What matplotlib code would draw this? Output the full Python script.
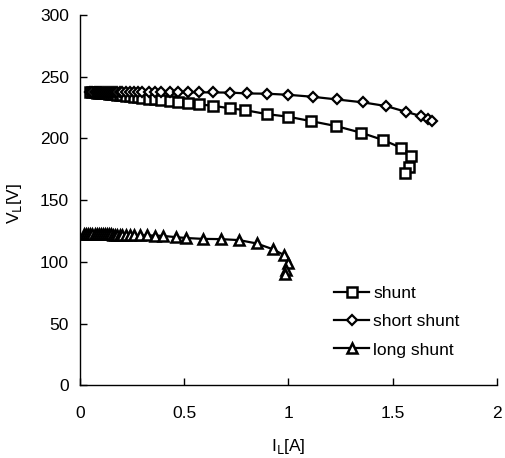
import matplotlib
matplotlib.use("Agg")
import matplotlib.pyplot as plt

plt.rcParams['font.family'] = ['Liberation Sans', 'DejaVu Sans']

shunt_I = [0.05, 0.06, 0.07, 0.08, 0.09, 0.10, 0.11, 0.12, 0.13, 0.14, 0.15, 0.16, 0.17, 0.18,
           0.19, 0.20, 0.22, 0.24, 0.26, 0.28, 0.30, 0.33, 0.36, 0.39, 0.43, 0.47, 0.52, 0.57,
           0.64, 0.72, 0.79, 0.895, 1.0, 1.11, 1.23, 1.35, 1.455, 1.54, 1.59, 1.58, 1.56]
shunt_V = [237.5, 237.4, 237.3, 237.2, 237.0, 236.9, 236.8, 236.6, 236.5, 236.3, 236.2, 236.0,
           235.8, 235.6, 235.4, 235.2, 234.8, 234.4, 234.0, 233.6, 233.0, 232.4, 231.6, 231.0,
           230.3, 229.8, 228.4, 227.6, 226.5, 224.4, 223.0, 219.8, 217.6, 214.0, 210.0, 204.6,
           198.7, 192.5, 185.7, 177.0, 171.7]

short_I = [0.05, 0.06, 0.07, 0.08, 0.09, 0.10, 0.11, 0.12, 0.13, 0.14, 0.15, 0.16, 0.17, 0.18,
           0.19, 0.20, 0.22, 0.24, 0.26, 0.28, 0.30, 0.33, 0.36, 0.39, 0.43, 0.47, 0.52, 0.57,
           0.64, 0.72, 0.80, 0.895, 1.0, 1.116, 1.234, 1.356, 1.468, 1.562, 1.635, 1.67, 1.69]
short_V = [237.5, 237.6, 237.6, 237.7, 237.7, 237.8, 237.8, 237.8, 237.8, 237.9, 237.9, 237.9,
           237.9, 237.9, 238.0, 238.0, 238.0, 238.0, 238.0, 238.0, 238.0, 237.9, 237.9, 237.8,
           237.7, 237.6, 237.5, 237.4, 237.3, 237.2, 236.5, 236.3, 235.4, 233.8, 231.6, 229.3,
           226.3, 221.7, 218.2, 215.5, 214.5]

long_I = [0.02, 0.03, 0.04, 0.05, 0.06, 0.07, 0.08, 0.09, 0.10, 0.11, 0.12, 0.13, 0.14, 0.15,
          0.16, 0.17, 0.18, 0.19, 0.20, 0.22, 0.24, 0.26, 0.29, 0.32, 0.36, 0.40, 0.46, 0.51,
          0.59, 0.676, 0.764, 0.847, 0.924, 0.98, 0.996, 0.99, 0.983]
long_V = [122.8, 122.8, 122.7, 122.7, 122.6, 122.6, 122.5, 122.5, 122.4, 122.4, 122.3, 122.3,
          122.2, 122.2, 122.1, 122.1, 122.0, 122.0, 121.9, 121.8, 121.7, 121.6, 121.5, 121.4,
          121.3, 121.0, 120.0, 119.3, 118.6, 118.4, 117.6, 114.9, 110.3, 105.4, 98.7, 93.3, 90.0]

fig = plt.figure(figsize=(5.06, 4.58), dpi=100)
ax = fig.add_axes([0.158, 0.159, 0.824, 0.808])

ax.plot(shunt_I, shunt_V, color='black', lw=1.6, marker='s', ms=7, mfc='white', mec='black',
        mew=1.8, label='shunt')
ax.plot(short_I, short_V, color='black', lw=1.6, marker='D', ms=5.5, mfc='white', mec='black',
        mew=1.6, label='short shunt')
ax.plot(long_I, long_V, color='black', lw=1.6, marker='^', ms=6.5, mfc='white', mec='black',
        mew=1.8, label='long shunt')

ax.set_xlim(0, 2)
ax.set_ylim(0, 300)
ax.set_xticks([0, 0.5, 1, 1.5, 2])
ax.set_xticklabels(['0', '0.5', '1', '1.5', '2'])
ax.set_yticks([0, 50, 100, 150, 200, 250, 300])
for s in ['top', 'right']:
    ax.spines[s].set_visible(False)
for s in ['left', 'bottom']:
    ax.spines[s].set_linewidth(1.0)
ax.tick_params(direction='in', length=5, width=1, labelsize=12.5)
ax.tick_params(axis='y', pad=8)
ax.tick_params(axis='x', pad=15)
ax.set_xlabel('I$_\\mathrm{L}$[A]', fontsize=12.5)
ax.set_ylabel('V$_\\mathrm{L}$[V]', fontsize=12.5)
ax.xaxis.set_label_coords(0.5, -0.14)
ax.yaxis.set_label_coords(-0.135, 0.49)

ax.legend(loc='upper left', bbox_to_anchor=(0.61, 0.268), frameon=False, fontsize=12.5,
          handlelength=2.0, handletextpad=0.25, labelspacing=0.75, borderaxespad=0,
          borderpad=0)

fig.savefig('out.png', dpi=100)
